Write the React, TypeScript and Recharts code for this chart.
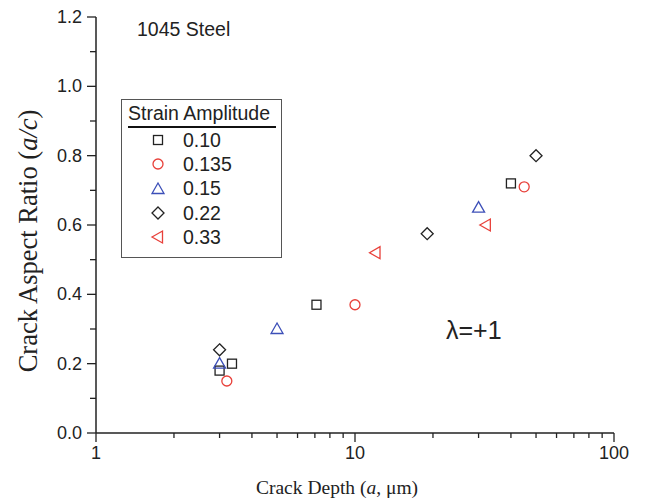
import React from "react";
import { ScatterChart, Scatter, XAxis, YAxis } from "recharts";

// Strain amplitude series (x = crack depth in µm, y = a/c)
const amp010 = [
  { x: 3.0, y: 0.18 },
  { x: 3.35, y: 0.2 },
  { x: 7.1, y: 0.37 },
  { x: 40, y: 0.72 },
];
const amp0135 = [
  { x: 3.2, y: 0.15 },
  { x: 10, y: 0.37 },
  { x: 45, y: 0.71 },
];
const amp015 = [
  { x: 3.0, y: 0.2 },
  { x: 5.0, y: 0.3 },
  { x: 30, y: 0.65 },
];
const amp022 = [
  { x: 3.0, y: 0.24 },
  { x: 19, y: 0.575 },
  { x: 50, y: 0.8 },
];
const amp033 = [
  { x: 12, y: 0.52 },
  { x: 32, y: 0.6 },
];

const xTicks = [1, 2, 3, 4, 5, 6, 7, 8, 9, 10, 20, 30, 40, 50, 60, 70, 80, 90, 100];
const xMajor = [1, 10, 100];
const yTicks = [0, 0.1, 0.2, 0.3, 0.4, 0.5, 0.6, 0.7, 0.8, 0.9, 1.0, 1.1, 1.2];

const BLACK = "#222";
const RED = "#e8403a";
const BLUE = "#3c4fb8";

type Kind = "square" | "circle" | "triangle" | "diamond" | "left";

const series: { name: string; kind: Kind; color: string; data: { x: number; y: number }[] }[] = [
  { name: "0.10", kind: "square", color: BLACK, data: amp010 },
  { name: "0.135", kind: "circle", color: RED, data: amp0135 },
  { name: "0.15", kind: "triangle", color: BLUE, data: amp015 },
  { name: "0.22", kind: "diamond", color: BLACK, data: amp022 },
  { name: "0.33", kind: "left", color: RED, data: amp033 },
];

const SANS = "'Liberation Sans', Arial, sans-serif";
const SERIF = "'Liberation Serif', 'Times New Roman', serif";

function Marker({ kind, color, cx, cy }: { kind: Kind; color: string; cx: number; cy: number }) {
  const common = { fill: "none", stroke: color, strokeWidth: 1.3 };
  switch (kind) {
    case "square":
      return <rect x={cx - 4.5} y={cy - 4.5} width={9} height={9} {...common} />;
    case "circle":
      return <circle cx={cx} cy={cy} r={5} {...common} />;
    case "triangle":
      return <polygon points={`${cx},${cy - 6} ${cx + 6},${cy + 4.5} ${cx - 6},${cy + 4.5}`} {...common} />;
    case "diamond":
      return <polygon points={`${cx},${cy - 6} ${cx + 6},${cy} ${cx},${cy + 6} ${cx - 6},${cy}`} {...common} />;
    default:
      return <polygon points={`${cx - 6},${cy} ${cx + 4.5},${cy - 6} ${cx + 4.5},${cy + 6}`} {...common} />;
  }
}

function XTick(props: any) {
  const { x, y, payload } = props;
  const major = xMajor.includes(payload.value);
  return (
    <g>
      <line x1={x} x2={x} y1={y} y2={y + (major ? 9 : 5)} stroke={BLACK} strokeWidth={1.3} />
      {major && (
        <text x={x} y={y + 26} textAnchor="middle" fontSize={18} fontFamily={SANS} fill="#222">
          {payload.value}
        </text>
      )}
    </g>
  );
}

function YTick(props: any) {
  const { x, y, payload } = props;
  const major = Math.round(payload.value * 10) % 2 === 0;
  return (
    <g>
      <line x1={x} x2={x - (major ? 9 : 6)} y1={y} y2={y} stroke={BLACK} strokeWidth={1.3} />
      {major && (
        <text x={x - 14} y={y + 6} textAnchor="end" fontSize={18} fontFamily={SANS} fill="#222">
          {payload.value.toFixed(1)}
        </text>
      )}
    </g>
  );
}

function LegendBox() {
  return (
    <div
      style={{
        position: "absolute",
        left: 121,
        top: 99,
        width: 161,
        height: 159,
        border: "1.5px solid #555",
        boxSizing: "border-box",
        background: "#fff",
        fontFamily: SANS,
        color: "#222",
      }}
    >
      <div
        style={{
          fontSize: 19.5,
          margin: "2px 5px 0 6px",
          paddingBottom: 1,
          borderBottom: "2px solid #111",
          lineHeight: "23px",
          whiteSpace: "nowrap",
        }}
      >
        Strain Amplitude
      </div>
      {series.map((s) => (
        <div key={s.name} style={{ display: "flex", alignItems: "center", height: 24.3 }}>
          <svg width={60} height={20} style={{ flex: "none" }}>
            <Marker kind={s.kind} color={s.color} cx={36} cy={10} />
          </svg>
          <span style={{ fontSize: 19.5, marginLeft: 1 }}>{s.name}</span>
        </div>
      ))}
    </div>
  );
}

export default function App() {
  return (
    <div style={{ position: "absolute", left: 0, top: 0, width: 645, height: 501, background: "#fff" }}>
      <ScatterChart width={645} height={501} margin={{ top: 17, right: 31, bottom: 0, left: 0 }}>
        <XAxis
          type="number"
          dataKey="x"
          scale="log"
          domain={[1, 100]}
          ticks={xTicks}
          interval={0}
          allowDataOverflow
          height={68}
          tickSize={0}
          tickMargin={0}
          tickLine={false}
          tick={<XTick />}
          axisLine={{ stroke: BLACK, strokeWidth: 1.5 }}
        />
        <YAxis
          type="number"
          dataKey="y"
          domain={[0, 1.2]}
          ticks={yTicks}
          interval={0}
          allowDataOverflow
          width={96}
          tickSize={0}
          tickMargin={0}
          tickLine={false}
          tick={<YTick />}
          axisLine={{ stroke: BLACK, strokeWidth: 1.5 }}
        />
        {series.map((s) => (
          <Scatter
            key={s.name}
            name={s.name}
            data={s.data}
            isAnimationActive={false}
            shape={(p: any) => <Marker kind={s.kind} color={s.color} cx={p.cx} cy={p.cy} />}
          />
        ))}
      </ScatterChart>

      <LegendBox />

      <div style={{ position: "absolute", left: 137, top: 18, fontFamily: SANS, fontSize: 19.5, color: "#222" }}>
        1045 Steel
      </div>
      <div style={{ position: "absolute", left: 446, top: 316, fontFamily: SANS, fontSize: 25, color: "#222" }}>
        λ=+1
      </div>
      <div
        style={{
          position: "absolute",
          left: 337,
          top: 488,
          transform: "translate(-50%, -50%)",
          whiteSpace: "nowrap",
          fontFamily: SERIF,
          fontSize: 19.5,
          color: "#222",
        }}
      >
        Crack Depth (<i>a</i>, μm)
      </div>
      <div
        style={{
          position: "absolute",
          left: 28,
          top: 241,
          transform: "translate(-50%, -50%) rotate(-90deg)",
          whiteSpace: "nowrap",
          fontFamily: SERIF,
          fontSize: 26.5,
          color: "#222",
        }}
      >
        Crack Aspect Ratio (<i>a/c</i>)
      </div>
    </div>
  );
}
